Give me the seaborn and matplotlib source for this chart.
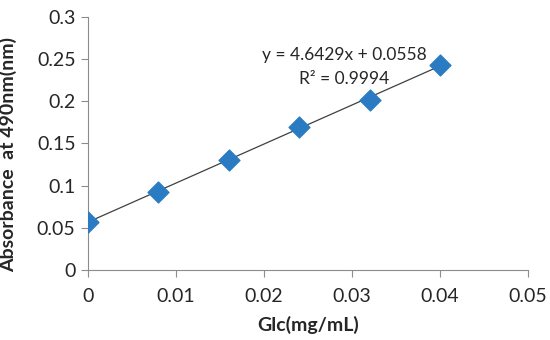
import numpy as np
import pandas as pd
import seaborn as sns
import matplotlib.pyplot as plt

# standard curve data
glc = [0.0, 0.008, 0.016, 0.024, 0.032, 0.04]
absorbance = [0.057, 0.093, 0.131, 0.170, 0.202, 0.243]
x_ticks = [0, 0.01, 0.02, 0.03, 0.04, 0.05]
y_ticks = [0, 0.05, 0.1, 0.15, 0.2, 0.25, 0.3]
eq_label = 'y = 4.6429x + 0.0558'
r2_label = 'R² = 0.9994'

df = pd.DataFrame({'glc': glc, 'abs': absorbance})

sns.set_style('white')
plt.rcParams['font.family'] = ['Lato', 'DejaVu Sans']

fig = plt.figure(figsize=(5.5, 3.4), dpi=100)
ax = fig.add_axes([0.16, 0.206, 0.8, 0.744])

# linear trendline over the data range
slope, intercept = np.polyfit(df['glc'], df['abs'], 1)
xs = np.array([df['glc'].min(), df['glc'].max()])
ax.plot(xs, slope * xs + intercept, color='#404040', lw=0.9, zorder=2)

sns.scatterplot(data=df, x='glc', y='abs', marker='D', s=115,
                color='#2A7BC1', edgecolor='#2A7BC1', ax=ax, zorder=3)

ax.set_xlim(0, 0.05)
ax.set_ylim(0, 0.3)
ax.set_xticks(x_ticks)
ax.set_xticklabels(['0', '0.01', '0.02', '0.03', '0.04', '0.05'])
ax.set_yticks(y_ticks)
ax.set_yticklabels(['0', '0.05', '0.1', '0.15', '0.2', '0.25', '0.3'])
ax.tick_params(axis='both', labelsize=14, length=5, width=0.8,
               color='#8c8c8c', direction='out', bottom=True, left=True)
ax.tick_params(axis='x', pad=8)
ax.tick_params(axis='y', pad=4)

for side in ['top', 'right']:
    ax.spines[side].set_visible(False)
for side in ['left', 'bottom']:
    ax.spines[side].set_color('#8c8c8c')
    ax.spines[side].set_linewidth(0.8)

ax.set_xlabel('Glc(mg/mL)', fontsize=14, fontweight='bold', labelpad=8)
ax.set_ylabel('Absorbance  at 490nm(nm)', fontsize=14, fontweight='bold')
ax.yaxis.set_label_coords(-0.16, 0.455)

ax.text(0.0291, 0.255, eq_label, fontsize=12.5, ha='center', va='center')
ax.text(0.0291, 0.2266, r2_label, fontsize=12.5, ha='center', va='center')

fig.savefig('out.png', dpi=100)
